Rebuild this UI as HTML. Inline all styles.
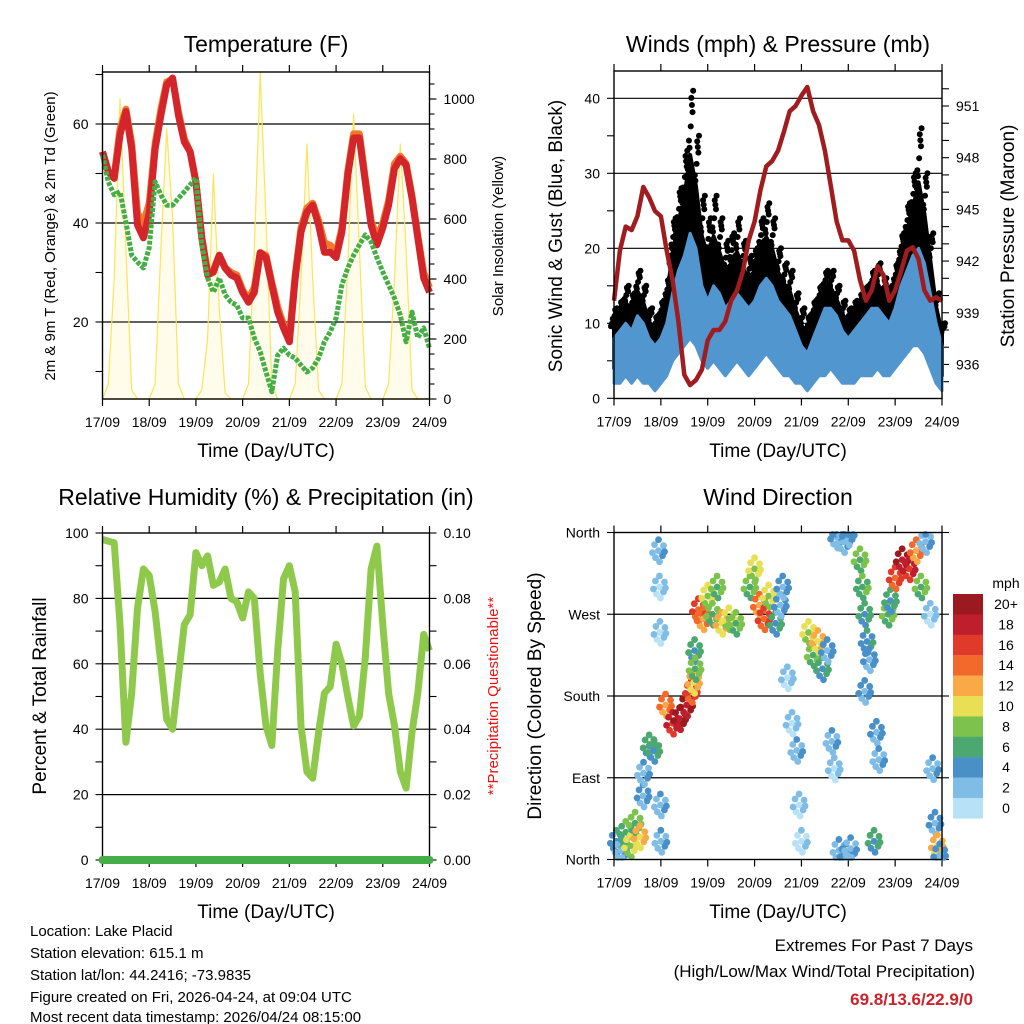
<!DOCTYPE html>
<html><head><meta charset="utf-8">
<style>
html,body{margin:0;padding:0;background:#fff;}
svg{display:block;font-family:"Liberation Sans",Arial,sans-serif;}
</style></head>
<body>
<svg id="chart" width="1024" height="1024" viewBox="0 0 1024 1024" xmlns="http://www.w3.org/2000/svg">
<rect width="1024" height="1024" fill="#fff"/>
<g id="layer"></g>
<text x="266" y="52" font-size="23" text-anchor="middle">Temperature (F)</text>
<text x="778" y="52" font-size="23" text-anchor="middle">Winds (mph) &amp; Pressure (mb)</text>
<text x="266" y="505" font-size="23" text-anchor="middle">Relative Humidity (%) &amp; Precipitation (in)</text>
<text x="778" y="505" font-size="23" text-anchor="middle">Wind Direction</text>
<text transform="translate(55,236) rotate(-90)" font-size="15" text-anchor="middle">2m &amp; 9m T (Red, Orange) &amp; 2m Td (Green)</text>
<text transform="translate(503,236) rotate(-90)" font-size="15" text-anchor="middle">Solar Insolation (Yellow)</text>
<text transform="translate(562,236) rotate(-90)" font-size="19" text-anchor="middle">Sonic Wind &amp; Gust (Blue, Black)</text>
<text transform="translate(1014,236) rotate(-90)" font-size="19" text-anchor="middle">Station Pressure (Maroon)</text>
<text transform="translate(46,696) rotate(-90)" font-size="19" text-anchor="middle">Percent &amp; Total Rainfall</text>
<text transform="translate(498,696) rotate(-90)" font-size="15" fill="#ee1111" text-anchor="middle">**Precipitation Questionable**</text>
<text transform="translate(541,696) rotate(-90)" font-size="19" text-anchor="middle">Direction (Colored By Speed)</text>
<text x="266" y="457" font-size="19" text-anchor="middle">Time (Day/UTC)</text>
<text x="778" y="457" font-size="19" text-anchor="middle">Time (Day/UTC)</text>
<text x="266" y="918" font-size="19" text-anchor="middle">Time (Day/UTC)</text>
<text x="778" y="918" font-size="19" text-anchor="middle">Time (Day/UTC)</text>
<g font-size="15">
<text x="30" y="936">Location: Lake Placid</text>
<text x="30" y="958">Station elevation: 615.1 m</text>
<text x="30" y="980">Station lat/lon: 44.2416; -73.9835</text>
<text x="30" y="1002">Figure created on Fri, 2026-04-24, at 09:04 UTC</text>
<text x="30" y="1022">Most recent data timestamp: 2026/04/24 08:15:00</text>
</g>
<g text-anchor="end">
<text x="973" y="951" font-size="17">Extremes For Past 7 Days</text>
<text x="975" y="977" font-size="17">(High/Low/Max Wind/Total Precipitation)</text>
<text x="973" y="1005" font-size="17" font-weight="bold" fill="#cc2229">69.8/13.6/22.9/0</text>
</g>
</svg>
<script>
const dayLabels = ["17/09","18/09","19/09","20/09","21/09","22/09","23/09","24/09"];
const tempRed = [54.4,50.4,49,57.8,62.5,55,39.6,37,42,55,61.8,67.9,69.3,61.8,56.4,54.4,48.3,37,29.5,30.1,33.5,30.9,29.5,28.9,26,24,26,34,33,27.5,22,18.8,16,28.9,38.2,42.2,43.6,39.6,34.1,34.1,33,38.2,49.7,57.2,57.2,48.3,39.6,35.6,39,43.6,51,53,51.7,45,37,28.9,26];
const tempOrange = [54.4,50.4,49.5,59,63,56,42,40,44,56,63,68.5,69,62.5,57,54.4,48.3,37,30,30.5,33.5,31,30,29.5,26.5,24.5,27,34,33.5,28,23,19.5,17,29.5,39,43,44,40.5,36,35.5,34,39,50.5,58,58,49,40.5,37,40,44.5,52,53.5,52,45.5,37.5,30,27];
const dewGreen = [53.7,48.3,45.7,46.3,40.2,33.5,32.1,30.9,35,48.3,45.7,43.6,43.6,45,46.3,47.7,49.1,35.6,28.9,26,28.9,25.5,24,23.4,20.8,20.8,16.8,14,9.9,5.9,13.3,14.7,13.3,12.7,11.3,9.9,10.7,12.7,16,18,20.8,27.5,30.9,33.5,35.6,37.6,36.2,33,30.1,27.5,24.8,21.4,16,22,16.8,18.8,14.7];
const solar = [0,50,400,1000,500,30,0,0, 0,50,500,900,600,50,0,0, 0,30,200,750,300,20,0,0, 0,50,500,1090,600,50,0,0, 0,50,400,850,400,30,0,0, 0,50,450,950,500,40,0,0, 0,50,400,850,500,30,0,0, 0];
const windLo = [2,2,3,2,3,2,2,1,2,3,5,6,7,8,7,5,4,5,4,3,4,5,4,3,4,5,6,5,4,3,3,2,2,1,2,3,3,4,3,2,2,2,3,3,3,4,3,3,4,5,6,7,7,6,4,2,1];
const windHi = [8,9,10,9,11,10,8,7,8,10,14,17,19,22,20,15,13,15,14,12,13,14,13,12,13,15,16,15,13,12,11,9,7,6,8,10,12,12,11,9,8,9,10,11,12,12,11,10,12,15,17,19,20,18,14,10,7];
const gustHi = [12,13,15,14,17,15,12,11,13,16,24,28,33,41,35,27,24,27,24,21,22,24,21,19,20,24,26,24,20,18,17,14,12,11,13,15,17,17,15,13,12,13,14,15,17,18,16,15,18,22,26,30,36,30,22,14,10];
const pressure = [939.7,942.6,944,943.8,944.6,946.3,945.7,944.9,944.6,942.6,940.9,938.5,935.4,934.8,935.1,935.7,937.4,938,938,938.5,939.7,940.3,941.4,943.2,944.3,946.1,947.5,947.8,948.4,949.5,950.7,951,951.6,952.1,950.7,949.9,948.4,946.4,944.3,943.2,943.2,942.6,940.9,939.7,940.3,941.7,941.2,939.7,940.3,941.4,942.6,942.8,942.1,940.3,939.7,939.9,939.7];
const rhValues = [98,97.5,97,72,36,51,77,89,87,76,60,43,40,56,72,75,94,90,93,84,85,89,80,79,74,82,80,57,41,35,64,86,90,82,41,27,25,39,51,53,66,60,50,41,44,62,89,96,72,51,41,27,22,39,51,69,64];
const precipValues = [0,0,0,0,0,0,0,0];
const wdTime = [17.05,17.15,17.25,17.35,17.45,17.55,17.62,17.63,17.75,17.85,17.95,17.97,17.98,17.99,18.0,18.1,18.25,18.4,18.55,18.65,18.7,18.72,18.73,18.8,18.9,19.0,19.1,19.2,19.3,19.45,19.6,19.9,20.0,20.1,20.2,20.3,20.45,20.55,20.6,20.7,20.8,20.9,20.95,21.0,21.15,21.25,21.35,21.45,21.55,21.65,21.7,21.75,21.9,22.0,21.8,21.95,22.05,22.25,22.3,22.35,22.4,22.45,22.35,22.6,22.65,22.55,22.85,22.9,23.0,23.15,23.3,23.45,23.55,23.65,23.75,23.8,23.85,23.9,23.95];
const wdDir = [20,10,30,15,40,25,70,95,125,120,340,300,250,60,20,170,150,155,170,185,195,230,210,275,265,290,270,300,260,265,260,300,320,280,265,290,260,280,300,200,150,120,60,20,250,225,240,210,230,130,100,355,350,358,10,5,12,330,300,270,240,220,185,140,110,20,270,285,310,330,320,340,300,350,270,100,40,15,5];
const wdSpeed = [5,3,7,10,8,12,4,3,6,6,3,2,2,3,3,14,18,20,20,16,12,6,8,16,14,10,8,8,12,10,8,8,10,14,16,10,6,4,4,2,2,3,2,1,10,8,12,6,4,3,2,4,3,4,3,4,3,8,7,6,5,4,4,4,3,6,8,6,16,20,18,14,8,3,2,3,4,12,4];
const speedLabels = ["20+","18","16","14","12","10","8","6","4","2","0"];
const speedColors = ["#9b1a1f","#bf1e2d","#e03a2a","#f26a2b","#f9a945","#e8df55","#7dc24d","#4aa870","#4a90c8","#7fbde6","#b7e1f7"];

const NS="http://www.w3.org/2000/svg";
const layer=document.getElementById('layer');
function mk(tag,attrs,parent){const e=document.createElementNS(NS,tag);for(const k in attrs)e.setAttribute(k,attrs[k]);(parent||layer).appendChild(e);return e;}
const times = tempRed.map((_,i)=>17+i*0.125);

function panel(name,L,R,T,B){
  const g=mk('g',{});
  
  
  const xs=d=>L+(d-17)*(R-L)/7;
  dayLabels.forEach((lab,i)=>{
    const x=xs(17+i);
    mk('line',{x1:x,x2:x,y1:B,y2:B+7,stroke:'#000','stroke-width':1.2},g);
    mk('line',{x1:x,x2:x,y1:T,y2:T-7,stroke:'#000','stroke-width':1.2},g);
    const t=mk('text',{x:x,y:B+28,'font-size':14,'text-anchor':'middle'},g);
    t.textContent=lab;
    
    
  });
  return {g,xs};
}
function box(L,R,T,B){mk('rect',{x:L,y:T,width:R-L,height:B-T,fill:'none',stroke:'#000','stroke-width':1.4});}
function yTicks(g,vals,f,x,side,labels,len){
  vals.forEach((v,i)=>{const y=f(v);
    mk('line',{x1:x,x2:x+(side<0?-len:len),y1:y,y2:y,stroke:'#000','stroke-width':1.1},g);
    if(labels&&labels[i]!==''){const t=mk('text',{x:x+(side<0?-14:14),y:y+5,'font-size':14,'text-anchor':side<0?'end':'start'},g);t.textContent=labels[i];
      
      }
  });
}
function grid(vals,f,L,R){vals.forEach(v=>{const y=f(v);mk('line',{x1:L,x2:R,y1:y,y2:y,stroke:'#000','stroke-width':1.2});});}
function pts(xs,ys,arr,ts){return arr.map((v,i)=>xs(ts[i]).toFixed(1)+','+ys(v).toFixed(1)).join(' ');}

// Panel 1
(function(){
  const L=102.5,R=429.5,T=72,B=399;
  const {g,xs}=panel('temperature',L,R,T,B);
  const yT=v=>322-(v-20)*4.95, yS=v=>399-v*0.3;
  grid([20,40,60],yT,L,R);
  const sp=mk('polygon',{points:xs(17)+','+yS(0)+' '+pts(xs,yS,solar,times)+' '+xs(24)+','+yS(0),fill:'rgba(252,228,90,0.12)',stroke:'#fbe35a','stroke-width':1.2,'stroke-linejoin':'round'});
  
  
  const o=mk('polyline',{points:pts(xs,yT,tempOrange,times),fill:'none',stroke:'#f07a2a','stroke-width':7,'stroke-linejoin':'round'});
  
  
  const r=mk('polyline',{points:pts(xs,yT,tempRed,times),fill:'none',stroke:'#d4262a','stroke-width':7,'stroke-linejoin':'round'});
  
  
  const gr=mk('polyline',{points:pts(xs,yT,dewGreen,times),fill:'none',stroke:'#45ae45','stroke-width':5,'stroke-dasharray':'4 1.5','stroke-linejoin':'round'});
  
  
  box(L,R,T,B);
  const tv=[],tl=[];for(let v=10;v<=70;v+=10){tv.push(v);tl.push(v%20===0?String(v):'');}
  yTicks(g,tv,yT,L,-1,tl,7);
  const sv=[];for(let v=0;v<=1050;v+=50){sv.push(v);}
  yTicks(g,sv,yS,R,1,null,5);
  yTicks(g,[0,200,400,600,800,1000],yS,R,1,['0','200','400','600','800','1000'],7);
})();

// Panel 2
(function(){
  const L=614,R=942,T=71,B=398.5;
  const {g,xs}=panel('winds',L,R,T,B);
  const yW=v=>398.3-v*7.5, yP=v=>106+(951-v)*17.23;
  grid([10,20,30,40],yW,L,R);
  const mid=windHi.map((h,i)=>h+(gustHi[i]-h)*0.55);
  const bb=mk('polygon',{points:pts(xs,yW,mid,times)+' '+pts(xs,yW,windLo.map(v=>v+2).reverse(),times.slice().reverse()),fill:'#000',stroke:'#000','stroke-width':4,'stroke-linejoin':'round'});
  
  
  const offs=[-2.5,1.5,-0.5,2.5,-1.5,0.5,-2,2,-1,1];
  const frac=[0.4,0.9,0.6,1,0.5,0.75,0.45,0.85,0.65,0.95];
  const gg=mk('g',{});
  
  
  gustHi.forEach((gv,i)=>{frac.forEach((f,k)=>{
    const v=windHi[i]+(gv-windHi[i])*f;
    const c=mk('circle',{cx:xs(times[i])+offs[k]*1.2,cy:yW(v),r:3,fill:'#000'},gg);
    
    
  });});
  const band=mk('polygon',{points:pts(xs,yW,windHi,times)+' '+pts(xs,yW,windLo.slice().reverse(),times.slice().reverse()),fill:'#5296d0',stroke:'#5296d0','stroke-width':3,'stroke-linejoin':'round'});
  
  
  const p=mk('polyline',{points:pts(xs,yP,pressure,times),fill:'none',stroke:'#a01c1e','stroke-width':4.5,'stroke-linejoin':'round'});
  
  
  box(L,R,T,B);
  const wv=[],wl=[];for(let v=0;v<=44;v+=5){wv.push(v);wl.push(v%10===0?String(v):'');}
  yTicks(g,wv,yW,L,-1,wl,7);
  const pv=[],pl=[];for(let v=935;v<=952;v++){pv.push(v);pl.push((v-936)%3===0?String(v):'');}
  yTicks(g,pv,yP,R,1,pl,7);
})();

// Panel 3
(function(){
  const L=102.5,R=429.5,T=533,B=860;
  const {g,xs}=panel('humidity',L,R,T,B);
  const yR=v=>860-v*3.27, yPr=v=>860-v*3270;
  grid([20,40,60,80],yR,L,R);
  const l=mk('polyline',{points:pts(xs,yR,rhValues,times),fill:'none',stroke:'#8fc94c','stroke-width':7,'stroke-linejoin':'round'});
  
  
  box(L,R,T,B);
  const pt=precipValues.map((_,i)=>17+i);
  const pr=mk('polyline',{points:pts(xs,yPr,precipValues,pt),fill:'none',stroke:'#45ae49','stroke-width':8,'stroke-linecap':'round'});
  
  
  const rv=[],rl=[];for(let v=0;v<=100;v+=10){rv.push(v);rl.push(v%20===0?String(v):'');}
  yTicks(g,rv,yR,L,-1,rl,7);
  const qv=[],ql=[];for(let v=0;v<=10;v++){qv.push(v/100);ql.push(v%2===0?(v/100).toFixed(2):'');}
  yTicks(g,qv,yPr,R,1,ql,7);
})();

// Panel 4
(function(){
  const L=614,R=942,T=532.5,B=859.5;
  const {g,xs}=panel('wind-direction',L,R,T,B);
  const yD=v=>859.5-v*327/360;
  grid([90,180,270],yD,L,R);
  function col(s){const idx=s>=20?0:10-Math.floor(s/2);return speedColors[Math.max(0,Math.min(10,idx))];}
  const pattern=[[0,0],[-4,-6],[4,5],[-3,7],[5,-5],[0,-11],[1,11],[-6,2],[6,1]];
  wdTime.forEach((t,i)=>{
    const x=xs(t),y=yD(wdDir[i]);
    pattern.forEach((p,k)=>{
      const cy=Math.max(T+2,Math.min(B-2,y+p[1]));
      const c=mk('circle',{cx:x+p[0],cy:cy,r:3.4,fill:col(wdSpeed[i]+((k%3)-1))});
      
      
    });
  });
  box(L,R,T,B);
  yTicks(g,[0,90,180,270,360],yD,L,-1,['North','East','South','West','North'],7);
  yTicks(g,[0,90,180,270,360],yD,R,1,null,7);
  const cb=mk('g',{});
  
  
  const mt=mk('text',{x:1006,y:588,'font-size':14,'text-anchor':'middle'},cb);mt.textContent='mph';
  speedLabels.forEach((lab,i)=>{
    const y=594+i*20.4;
    mk('rect',{x:953,y:y,width:30,height:20.6,fill:speedColors[i]},cb);
    const t=mk('text',{x:1006,y:y+15,'font-size':14,'text-anchor':'middle'},cb);
    t.textContent=lab;
    
    
  });
})();
</script>
</body></html>
